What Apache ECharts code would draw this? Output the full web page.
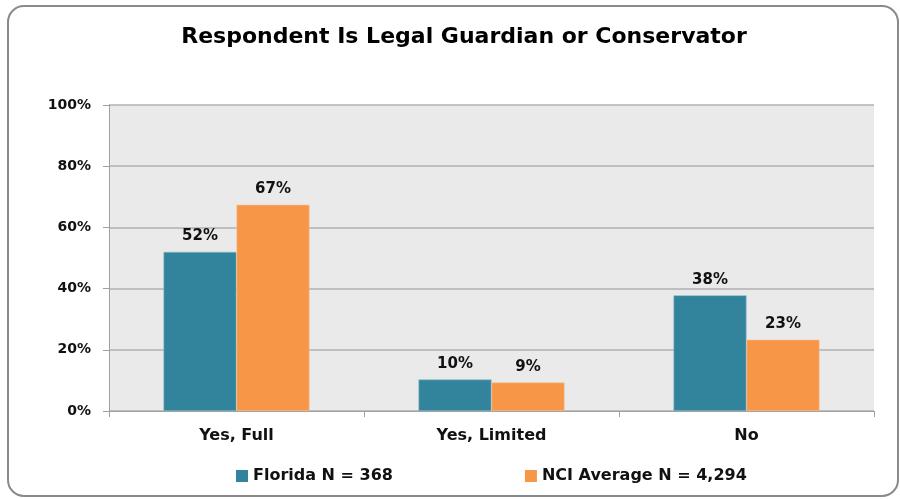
<!DOCTYPE html>
<html><head><meta charset="utf-8">
<script src="https://cdn.jsdelivr.net/npm/echarts@6/dist/echarts.min.js"></script>
<style>html,body{margin:0;padding:0;background:#fff}#c{width:900px;height:499px}</style>
</head><body><div id="c"></div>
<script>
const categories = ['Yes, Full', 'Yes, Limited', 'No'];
const floridaValues = [52, 10.3, 37.8];
const nciValues = [67.4, 9.3, 23.3];
const seriesNames = ['Florida N = 368', 'NCI Average N = 4,294'];
const yTicks = [0, 20, 40, 60, 80, 100];

const chart = echarts.init(document.getElementById('c'));
const FONT = '"DejaVu Sans", Verdana, sans-serif';
const lbl = {show: true, position: 'top', distance: 8, color: '#111', fontWeight: 'bold', fontSize: 15, fontFamily: FONT,
  formatter: p => Math.round(p.value) + '%'};
chart.setOption({
  animation: false,
  textStyle: {fontFamily: FONT},
  title: {text: 'Respondent Is Legal Guardian or Conservator', left: 459, top: 21, textAlign: 'center',
    textStyle: {fontSize: 22, fontWeight: 'bold', color: '#000', fontFamily: FONT}},
  graphic: [{type: 'rect', shape: {x: 8, y: 6, width: 890, height: 490, r: 16},
    style: {fill: 'none', stroke: '#8a8a8a', lineWidth: 2}, silent: true}],
  legend: {bottom: 10, left: 231, itemGap: 132, itemWidth: 12, itemHeight: 12,
    icon: 'rect', itemStyle: {borderWidth: 0},
    textStyle: {fontSize: 16, fontWeight: 'bold', color: '#111', fontFamily: FONT},
    data: seriesNames},
  grid: {left: 109, right: 26, top: 105, bottom: 88, show: true, backgroundColor: '#EAEAEA', borderWidth: 0},
  xAxis: {type: 'category', data: categories,
    axisLine: {lineStyle: {color: '#A0A0A0', width: 1}},
    axisTick: {show: true, length: 6, lineStyle: {color: '#A0A0A0'}},
    axisLabel: {fontSize: 16, fontWeight: 'bold', color: '#111', margin: 17, fontFamily: FONT}},
  yAxis: {type: 'value', min: 0, max: 100, interval: 20,
    axisLine: {show: true, lineStyle: {color: '#A0A0A0'}},
    axisTick: {show: true, length: 6, lineStyle: {color: '#A0A0A0'}},
    splitLine: {lineStyle: {color: '#B0B0B0', width: 1.5}},
    axisLabel: {fontSize: 14, fontWeight: 'bold', color: '#111', margin: 18, fontFamily: FONT,
      formatter: v => yTicks.includes(v) ? v + '%' : ''}},
  series: [
    {name: seriesNames[0], type: 'bar', data: floridaValues, barWidth: 73, barGap: '0%',
      itemStyle: {color: '#31849B', borderColor: '#8fb9c6', borderWidth: 0.6}, label: lbl},
    {name: seriesNames[1], type: 'bar', data: nciValues, barWidth: 73, barGap: '0%',
      itemStyle: {color: '#F79646', borderColor: '#f9c39a', borderWidth: 0.6}, label: lbl}
  ]
});
</script></body></html>
